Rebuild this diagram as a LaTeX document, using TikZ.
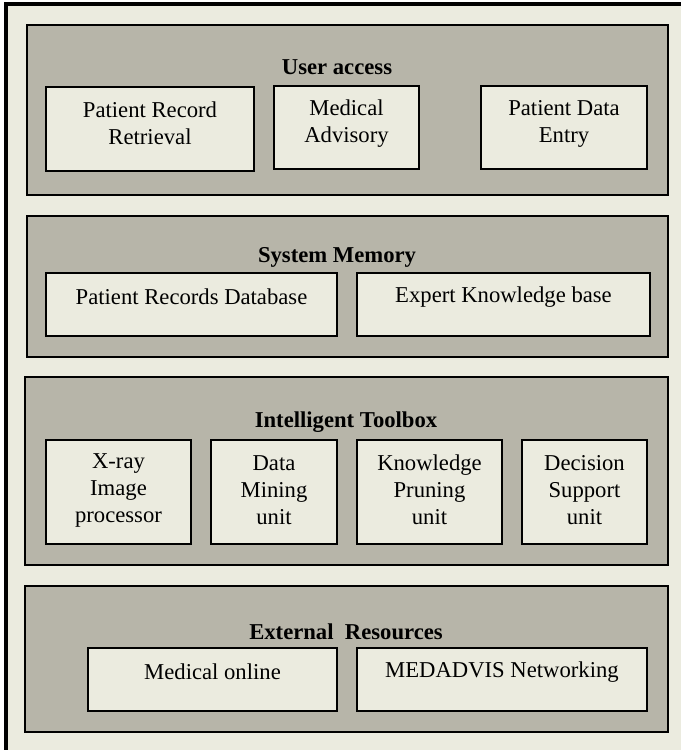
\documentclass[tikz,border=0pt]{standalone}
\usepackage{fontspec}
\setmainfont{Liberation Serif}
\usepackage{xcolor}
\usepackage{tikz}

\definecolor{paper}{RGB}{235,235,223}
\definecolor{layergray}{RGB}{183,181,169}
\newcommand{\boxfont}{\fontsize{17}{20.25}\selectfont}

\tikzset{
  layer/.style={draw=black, fill=layergray, line width=1.3pt},
  unitbox/.style={draw=black, fill=paper, line width=1.2pt},
  unittext/.style={inner sep=0.75pt, align=center, font=\boxfont},
  layertitle/.style={inner sep=0.75pt, align=center, font=\boxfont\bfseries}
}

\begin{document}
\begin{tikzpicture}[x=0.75pt,y=0.75pt,yscale=-1,xscale=1]
\useasboundingbox (0,0) rectangle (681,750);

%Frame
\fill [paper] (6,4) rectangle (690,760);
\draw [line width=3pt] (6,4) rectangle (690,760);

%Layer: User access
\draw [layer] (27,25) rectangle (668,195);
\draw [unitbox] (46,87) rectangle (254,171);
\draw [unitbox] (274,86) rectangle (419,169);
\draw [unitbox] (481,86) rectangle (647,169);

%Layer: System Memory
\draw [layer] (27,216) rectangle (668,357);
\draw [unitbox] (46,273) rectangle (337,336);
\draw [unitbox] (357,273) rectangle (650,336);

%Layer: Intelligent Toolbox
\draw [layer] (25,377) rectangle (668,565);
\draw [unitbox] (46,440) rectangle (191,544);
\draw [unitbox] (211,440) rectangle (337,544);
\draw [unitbox] (357,440) rectangle (502,544);
\draw [unitbox] (522,440) rectangle (647,544);

%Layer: External Resources
\draw [layer] (25,586) rectangle (668,732);
\draw [unitbox] (88,648) rectangle (337,711);
\draw [unitbox] (357,648) rectangle (647,711);

% Text Node
\node [layertitle] (access) at (337,67) {User access};
\node [unittext] (retrieval) at (150,123.5) {Patient Record\\Retrieval};
\node [unittext] (advisory) at (346.5,123.5) {Medical\\Advisory};
\node [unittext] (entry) at (564,123.5) {Patient Data\\Entry};
% Text Node
\node [layertitle] (memory) at (337,257) {System Memory};
\node [unittext] (records) at (191.5,297) {Patient Records Database};
\node [unittext] (expert) at (503.5,297) {Expert Knowledge base};
% Text Node
\node [layertitle] (toolbox) at (346,422) {Intelligent Toolbox};
\node [unittext] (xray) at (118.5,490) {X-ray\\Image\\processor};
\node [unittext] (mining) at (274,490) {Data\\Mining\\unit};
\node [unittext] (pruning) at (429.5,490) {Knowledge\\Pruning\\unit};
\node [unittext] (decision) at (584.5,490) {Decision\\Support\\unit};
% Text Node
\node [layertitle] (external) at (346,632) {External\ \ Resources};
\node [unittext] (online) at (212.5,672) {Medical online};
\node [unittext] (medadvis) at (502,672) {MEDADVIS Networking};

\end{tikzpicture}
\end{document}
